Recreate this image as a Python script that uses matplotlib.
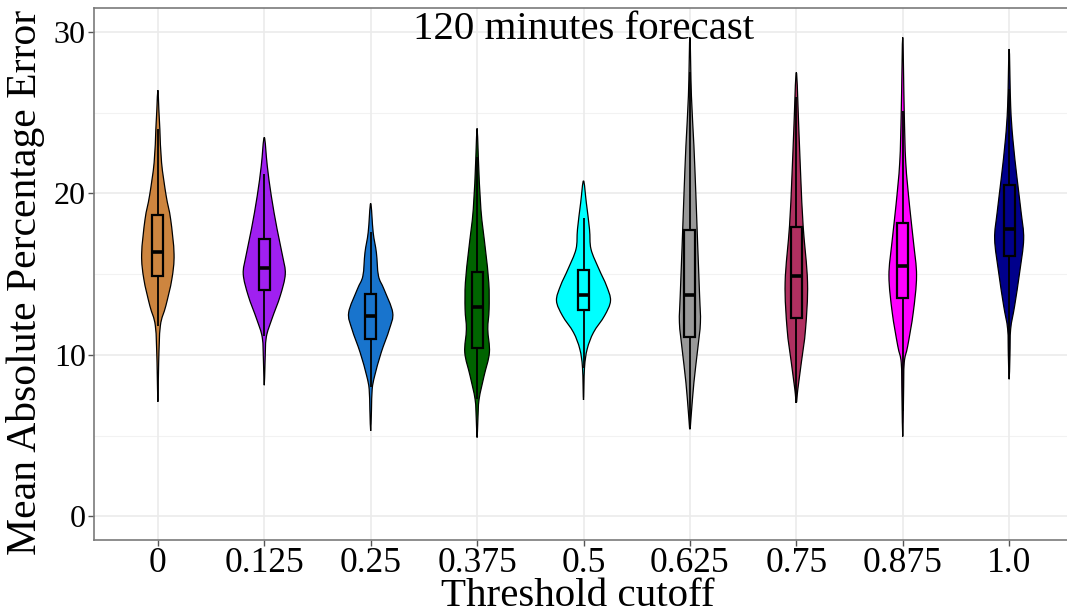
import matplotlib
matplotlib.use("Agg")
import matplotlib.pyplot as plt
from matplotlib.path import Path
from matplotlib.patches import PathPatch, Rectangle
import numpy as np

# ---- data -------------------------------------------------------------
thresholds = ["0", "0.125", "0.25", "0.375", "0.5", "0.625", "0.75", "0.875", "1.0"]
fill_colors = ["#CD853F", "#A020F0", "#1874CD", "#006400", "#00FFFF",
               "#999999", "#B03060", "#FF00FF", "#00008B"]

# box-plot statistics (MAPE, %)
q1 = [14.90, 14.03, 10.97, 10.41, 12.77, 11.11, 12.29, 13.53, 16.13]
median = [16.40, 15.39, 12.42, 12.94, 13.70, 13.72, 14.86, 15.50, 17.77]
q3 = [18.68, 17.17, 13.80, 15.14, 15.27, 17.73, 17.93, 18.20, 20.52]
whisker_low = [11.80, 11.18, 8.00, 7.25, 9.20, 5.39, 7.04, 6.50, 9.60]
whisker_high = [24.00, 21.20, 17.60, 22.25, 18.45, 27.50, 26.00, 25.10, 26.50]

# violin density profiles: MAPE levels and relative density at each level
profile_y = [
    [7.09, 9.5, 11.8, 13.04, 14.69, 16.24, 18.4, 19.86, 21.92, 23.99, 25.2, 26.4],
    [8.12, 9.6, 11.08, 12.2, 13.66, 15.0, 16.13, 17.8, 19.86, 21.71, 23.47],
    [5.29, 6.6, 7.87, 8.7, 10.14, 11.59, 12.62, 14.07, 14.89, 16.34, 17.58, 19.38],
    [4.88, 6.0, 7.25, 8.7, 10.14, 11.59, 12.83, 14.48, 16.55, 19.03, 22.13, 24.03],
    [7.21, 9.2, 10.36, 11.39, 12.42, 13.35, 14.28, 15.31, 16.55, 17.79, 19.44, 20.78],
    [5.39, 6.43, 8.29, 10.36, 12.0, 13.65, 16.75, 19.85, 22.95, 26.05, 29.67],
    [7.04, 7.87, 9.52, 11.59, 14.48, 17.99, 20.89, 23.99, 27.5],
    [4.94, 7.5, 9.52, 10.56, 12.62, 14.89, 16.96, 19.24, 21.92, 25.02, 29.67],
    [8.49, 10.0, 11.6, 13.04, 15.11, 17.17, 18.82, 20.89, 23.37, 25.43, 28.95],
]
profile_density = [
    [0, 0.8, 2.5, 8, 14, 16.2, 12.8, 8.3, 3.7, 2.0, 1.0, 0],
    [0, 0.8, 2, 7.5, 16, 21, 18.3, 12.8, 7, 3, 0],
    [0, 0.8, 1.5, 4, 10.5, 18.7, 22, 13.3, 7.8, 5.7, 2.5, 0],
    [0, 0.8, 2, 7, 12.3, 10.7, 12, 11.7, 8.3, 3.8, 1.3, 0],
    [0, 1, 3.7, 10, 21, 27, 23, 15.5, 7.5, 6, 2.8, 0],
    [0, 1.5, 4, 7.8, 10.5, 9.7, 7.8, 6, 4, 1.5, 0],
    [0, 1.5, 5, 9.2, 11.2, 6.8, 4.5, 2.5, 0],
    [0, 0.8, 1.5, 5, 10.5, 13.8, 10.8, 6.8, 3, 1.5, 0],
    [0, 0.8, 1.5, 5.5, 10.5, 14.5, 12, 8, 3.7, 1.5, 0],
]

# ---- styling ----------------------------------------------------------
SERIF = ["Liberation Serif", "DejaVu Serif"]
DENSITY_TO_WIDTH = 1.0 / 106.4   # relative density -> half-width in category units
BOX_HALF = 0.052

plt.rcParams["font.family"] = SERIF


def smooth_closed_path(xs, ys):
    """Closed Catmull-Rom curve through the points, as cubic Bezier segments."""
    pts = np.column_stack([xs, ys])
    n = len(pts)
    verts = [pts[0]]
    codes = [Path.MOVETO]
    for i in range(n):
        p0 = pts[(i - 1) % n]
        p1 = pts[i]
        p2 = pts[(i + 1) % n]
        p3 = pts[(i + 2) % n]
        c1 = p1 + (p2 - p0) / 6.0
        c2 = p2 - (p3 - p1) / 6.0
        verts.extend([c1, c2, p2])
        codes.extend([Path.CURVE4] * 3)
    return Path(verts, codes)


fig = plt.figure(figsize=(10.67, 6.13), dpi=100)
ax = fig.add_axes([94 / 1067, 73 / 613, 979 / 1067, 532 / 613])

ax.set_xlim(0.4, 9.6)
ax.set_ylim(-1.47, 31.49)

# grid
for yv in [5, 15, 25]:
    ax.axhline(yv, color="#F2F2F2", lw=0.8, zorder=0)
for yv in [0, 10, 20, 30]:
    ax.axhline(yv, color="#EBEBEB", lw=1.2, zorder=0)
for i in range(len(thresholds)):
    ax.axvline(i + 1, color="#EBEBEB", lw=1.2, zorder=0)

for i, name in enumerate(thresholds):
    xc = i + 1
    ys = np.asarray(profile_y[i], dtype=float)
    hw = np.asarray(profile_density[i], dtype=float) * DENSITY_TO_WIDTH
    # right side bottom -> top, left side top -> bottom
    right_x = xc + hw
    left_x = xc - hw[::-1]
    outline_x = np.concatenate([right_x, left_x[1:-1]])
    outline_y = np.concatenate([ys, ys[::-1][1:-1]])
    path = smooth_closed_path(outline_x, outline_y)
    ax.add_patch(PathPatch(path, facecolor=fill_colors[i], edgecolor="black",
                           lw=0.9, zorder=2))

    # whiskers
    ax.plot([xc, xc], [q3[i], whisker_high[i]], color="black", lw=1.3,
            zorder=3, solid_capstyle="butt")
    ax.plot([xc, xc], [whisker_low[i], q1[i]], color="black", lw=1.3,
            zorder=3, solid_capstyle="butt")
    # box
    ax.add_patch(Rectangle((xc - BOX_HALF, q1[i]), 2 * BOX_HALF, q3[i] - q1[i],
                           facecolor=fill_colors[i], edgecolor="black",
                           lw=1.6, zorder=4))
    ax.plot([xc - BOX_HALF, xc + BOX_HALF], [median[i], median[i]],
            color="black", lw=2.6, zorder=5, solid_capstyle="butt")

# axes styling
for side in ["left", "bottom", "top"]:
    ax.spines[side].set_color("#7a7a7a")
    ax.spines[side].set_linewidth(1.2)
ax.spines["right"].set_visible(False)

ax.set_xticks(range(1, len(thresholds) + 1))
ax.set_xticklabels(thresholds, fontsize=25.5, family=SERIF)
ax.set_yticks([0, 10, 20, 30])
ax.set_yticklabels(["0", "10", "20", "30"], fontsize=23, family=SERIF)
ax.tick_params(axis="both", colors="#555555", length=4, width=1.0, labelcolor="black")
ax.tick_params(axis="x", pad=1)
ax.tick_params(axis="y", pad=2)

# axis titles
fig.text(578 / 1067, 7 / 613, "Threshold cutoff", ha="center", va="baseline",
         fontsize=29.5, family=SERIF)
ax.set_ylabel("Mean Absolute Percentage Error", fontsize=30, family=SERIF)
ax.yaxis.set_label_coords(-0.05, 0.485)

ax.text(0.5, 0.995, "120 minutes forecast", transform=ax.transAxes,
        ha="center", va="top", fontsize=29.5, family=SERIF, zorder=6)

fig.savefig("out.png", dpi=100)
